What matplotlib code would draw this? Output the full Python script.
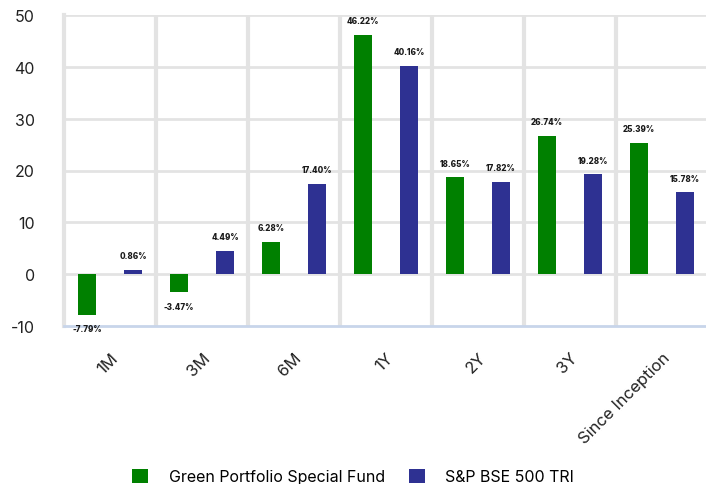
import matplotlib.pyplot as plt
import numpy as np

periods = ["1M", "3M", "6M", "1Y", "2Y", "3Y", "Since Inception"]
fund = [-7.79, -3.47, 6.28, 46.22, 18.65, 26.74, 25.39]
bench = [0.86, 4.49, 17.40, 40.16, 17.82, 19.28, 15.78]
series_names = ["Green Portfolio Special Fund", "S&P BSE 500 TRI"]

plt.rcParams['font.family'] = ['Inter', 'DejaVu Sans']
plt.rcParams['axes.unicode_minus'] = False

fig = plt.figure(figsize=(7.06, 4.85), dpi=100)
ax = fig.add_axes([64 / 706, 158 / 485, 644 / 706, 311 / 485])

x = np.arange(len(periods))
w = 0.2
b1 = ax.bar(x - 0.25, fund, w, color="#008000", label=series_names[0], zorder=3)
b2 = ax.bar(x + 0.25, bench, w, color="#2e3192", label=series_names[1], zorder=3)

# value labels above positive bars, below negative ones
for bars, vals in [(b1, fund), (b2, bench)]:
    for r, v in zip(bars, vals):
        cx = r.get_x() + r.get_width() / 2
        off = 7 if v >= 0 else -7
        ax.annotate(f"{v:.2f}%", (cx, v), xytext=(0, off), textcoords="offset points",
                    ha="center", va="bottom" if v >= 0 else "top",
                    fontsize=5.8, fontweight="heavy", color="#1a1a1a")

ax.set_ylim(-10, 50)
ax.set_xlim(-0.5, len(periods) - 0.5)
ax.set_yticks(range(-10, 51, 10))
ax.set_xticks(x)
ax.set_xticklabels(periods, rotation=45, ha="right", rotation_mode="anchor", fontsize=12, color="#222222")
ax.tick_params(axis="y", labelsize=11.5, labelcolor="#222222", length=0, pad=21)
ax.tick_params(axis="x", length=0, pad=17)

# grid: horizontal thin, vertical thick between categories
for yv in range(0, 51, 10):
    ax.axhline(yv, color="#e3e3e3", lw=2, zorder=1)
for xv in np.arange(0.5, len(periods) - 0.5, 1):
    ax.axvline(xv, color="#e3e3e3", lw=3, zorder=1)

for s in ["top", "right"]:
    ax.spines[s].set_visible(False)
ax.spines["left"].set_color("#e3e3e3")
ax.spines["left"].set_linewidth(3)
ax.spines["bottom"].set_color("#c8d5ea")
ax.spines["bottom"].set_linewidth(2)

fig.legend(handles=[b1, b2], loc="lower center", bbox_to_anchor=(0.5, -0.03), ncol=2,
           frameon=False, fontsize=11.5, handlelength=1.0, handleheight=1.0,
           columnspacing=1.5, handletextpad=1.3)

fig.savefig("out.png", dpi=100)
